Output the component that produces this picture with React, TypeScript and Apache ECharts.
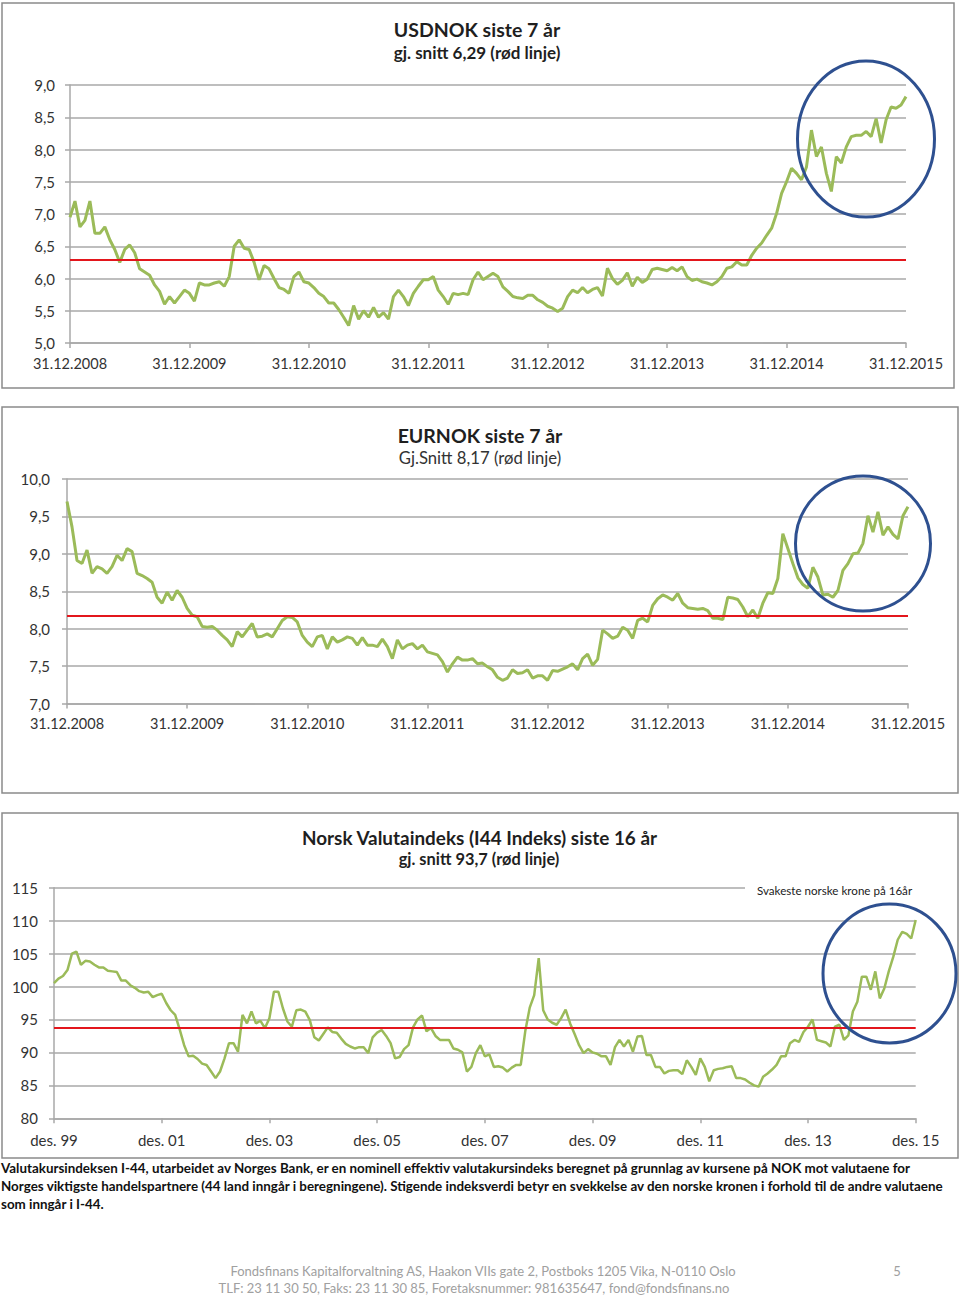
import React, { useEffect, useRef } from 'react';
import * as echarts from 'echarts';

// ---------- DATA ----------
// USDNOK, sampled every half month from 31.12.2008 to 31.12.2015
const usdValues = [
  6.95, 7.2, 6.8, 6.9, 7.2, 6.7, 6.7, 6.8, 6.6, 6.45,
  6.25, 6.45, 6.52, 6.4, 6.15, 6.1, 6.05, 5.9, 5.8, 5.6,
  5.72, 5.62, 5.72, 5.82, 5.77, 5.65, 5.93, 5.9, 5.9, 5.93,
  5.95, 5.88, 6.03, 6.5, 6.6, 6.47, 6.45, 6.25, 5.98, 6.2,
  6.15, 6.0, 5.86, 5.83, 5.77, 6.03, 6.1, 5.95, 5.93, 5.86,
  5.77, 5.72, 5.62, 5.62, 5.52, 5.4, 5.27, 5.58, 5.37, 5.5,
  5.4, 5.55, 5.4, 5.47, 5.37, 5.72, 5.82, 5.72, 5.58, 5.77,
  5.88, 5.98, 5.98, 6.03, 5.82, 5.72, 5.6, 5.77, 5.75, 5.77,
  5.75, 5.98, 6.1,
  5.98, 6.03, 6.08, 6.03, 5.87, 5.8, 5.72, 5.7, 5.69, 5.74,
  5.74, 5.67, 5.63, 5.57, 5.54, 5.49, 5.54, 5.72, 5.82, 5.78,
  5.86, 5.78, 5.83, 5.86, 5.73, 6.16, 6.0, 5.91, 5.97, 6.09,
  5.88, 6.02, 5.94, 5.99, 6.14, 6.16, 6.14, 6.12, 6.17, 6.12,
  6.18, 6.03, 5.97, 5.99, 5.95, 5.93, 5.9, 5.95, 6.03, 6.16,
  6.18, 6.26, 6.21, 6.21, 6.36, 6.47, 6.55, 6.67, 6.78, 7.01,
  7.32, 7.5, 7.71, 7.63, 7.53, 7.73, 8.3, 7.89, 8.04, 7.63,
  7.35, 7.89, 7.79, 8.04, 8.2, 8.22, 8.22, 8.28, 8.2, 8.48,
  8.1, 8.46, 8.66, 8.64, 8.69, 8.82,
];

// EURNOK, sampled every half month from 31.12.2008 to 31.12.2015
const eurValues = [
  9.7, 9.36, 8.91, 8.87, 9.05, 8.74, 8.83, 8.8, 8.74, 8.83,
  8.98, 8.91, 9.07, 9.03, 8.74, 8.71, 8.67, 8.62, 8.42, 8.34,
  8.49, 8.38, 8.51, 8.42, 8.27, 8.18, 8.16, 8.03, 8.02, 8.03,
  7.98, 7.91, 7.85, 7.76, 7.96, 7.89, 7.98, 8.07, 7.89, 7.9,
  7.93, 7.89, 8.0, 8.11, 8.16, 8.15, 8.09, 7.91, 7.82, 7.76,
  7.89, 7.91, 7.73, 7.89, 7.82, 7.85, 7.89, 7.87, 7.78, 7.88,
  7.78, 7.78, 7.76, 7.86, 7.76, 7.6, 7.85, 7.73, 7.78, 7.8,
  7.73, 7.78, 7.69, 7.67, 7.65, 7.56, 7.42, 7.53, 7.62, 7.58,
  7.58, 7.6, 7.53,
  7.54, 7.49, 7.45, 7.35, 7.31, 7.34, 7.45, 7.4, 7.41, 7.45,
  7.34, 7.37, 7.37, 7.31, 7.44, 7.43, 7.46, 7.49, 7.53, 7.45,
  7.6, 7.66, 7.51, 7.59, 7.98, 7.93, 7.87, 7.9, 8.02, 7.98,
  7.87, 8.11, 8.14, 8.09, 8.31, 8.4, 8.45, 8.42, 8.38, 8.47,
  8.34, 8.28, 8.27, 8.26, 8.27, 8.24, 8.14, 8.14, 8.12, 8.42,
  8.41, 8.39, 8.29, 8.16, 8.25, 8.14, 8.34, 8.48, 8.47, 8.67,
  9.27, 9.07, 8.87, 8.68, 8.59, 8.54, 8.82, 8.69, 8.45, 8.46,
  8.42, 8.51, 8.78, 8.87, 9.0, 9.01, 9.14, 9.51, 9.29, 9.56,
  9.25, 9.36, 9.26, 9.2, 9.51, 9.63,
];

// I-44, monthly from des. 99 to des. 15
const i44Values = [
  100.5, 101.2, 101.6, 102.5, 105.0, 105.3, 103.3, 103.9, 103.8, 103.3,
  102.9, 102.9, 102.4, 102.3, 102.2, 100.9, 100.9, 100.2, 99.8, 99.3,
  99.1, 99.2, 98.4, 98.7, 98.9, 97.5, 96.4, 95.7, 93.5, 91.1,
  89.4, 89.5, 89.0, 88.3, 88.1, 87.1, 86.1, 87.1, 89.1, 91.4,
  91.4, 90.1, 95.7, 94.4, 96.2, 94.4, 94.8, 93.7, 95.2, 99.2,
  99.2, 96.7, 94.7, 93.9, 96.4, 96.5, 96.2, 94.9, 92.3, 91.8,
  92.8, 93.8, 93.1, 93.0, 92.1, 91.3, 90.9, 90.6, 90.8, 90.8,
  89.9, 92.3, 93.0, 93.4, 92.5, 91.4, 89.1, 89.3, 90.5, 91.1,
  93.8, 95.0, 95.6, 93.2, 93.7, 92.5, 91.9, 91.9, 91.9, 90.6,
  90.4, 90.0, 87.1, 87.8, 89.9, 91.1, 89.4, 89.7, 87.8, 87.9,
  87.7, 87.1, 87.7, 88.1, 88.1, 93.2, 96.8, 98.7, 104.3, 96.4,
  95.0, 94.5, 94.2, 95.2, 96.5, 94.4, 92.8, 91.1, 89.9, 90.5,
  90.0, 89.8, 89.4, 89.4, 88.1, 90.8, 91.9, 90.9, 91.9, 90.1,
  92.4, 92.5, 89.6, 89.6, 87.8, 87.8, 86.8, 87.2, 87.3, 87.3,
  86.7, 88.8, 87.8, 86.6, 89.1, 87.8, 85.6, 87.3, 87.5, 87.6,
  87.8, 87.9, 86.1, 86.1, 85.9, 85.4, 85.0, 84.8, 86.3, 86.8,
  87.4, 88.1, 89.4, 89.4, 91.4, 91.9, 91.6, 93.1, 93.9, 95.0,
  91.9, 91.7, 91.5, 90.9, 93.9, 94.2, 91.9, 92.6, 96.2, 97.7,
  101.5, 101.5, 99.5, 102.3, 98.2, 99.7, 102.3, 104.5, 107.1, 108.3,
  108.0, 107.3, 110.1,
];

const usdAvg = 6.29;
const eurAvg = 8.17;
const i44Avg = 93.7;

const firstYear = 2009; // tick value for 31.12.2008
const lastYear = 2016; // tick value for 31.12.2015
const samplesPerYear = 24;
const monthsPerYear = 12;

const usdTitle = 'USDNOK siste 7 år';
const usdSubtitle = 'gj. snitt 6,29 (rød linje)';
const eurTitle = 'EURNOK siste 7 år';
const eurSubtitle = 'Gj.Snitt 8,17 (rød linje)';
const i44Title = 'Norsk Valutaindeks (I44 Indeks) siste 16 år';
const i44Subtitle = 'gj. snitt 93,7 (rød linje)';
const i44Note = 'Svakeste norske krone på 16år';

const bodyLines = [
  'Valutakursindeksen I-44, utarbeidet av Norges Bank, er en nominell effektiv valutakursindeks beregnet på grunnlag av kursene på NOK mot valutaene for',
  'Norges viktigste handelspartnere (44 land inngår i beregningene). Stigende indeksverdi betyr en svekkelse av den norske kronen i forhold til de andre valutaene',
  'som inngår i I-44.',
];
const footerLines = [
  'Fondsfinans Kapitalforvaltning AS, Haakon VIIs gate 2, Postboks 1205 Vika, N-0110 Oslo',
  'TLF: 23 11 30 50, Faks: 23 11 30 85, Foretaksnummer: 981635647, fond@fondsfinans.no',
];
const pageNumber = '5';

// ---------- STYLE ----------
const FONT = 'Lato, "Open Sans", "DejaVu Sans", sans-serif';
const GRID = '#A8A8A8';
const LABEL = '#333333';
const GREEN = '#9BBB59';
const RED = '#E3161C';
const BLUE = '#2E5090';

const comma = (v: number) => v.toFixed(1).replace('.', ',');

function xYears(gridIndex: number, margin: number) {
  return {
    type: 'value',
    gridIndex,
    min: firstYear,
    max: lastYear,
    interval: 1,
    axisLine: { show: true, lineStyle: { color: GRID, width: 1.5 } },
    axisTick: { show: true, length: 5, lineStyle: { color: GRID, width: 1.5 } },
    axisLabel: {
      margin,
      color: LABEL,
      fontFamily: FONT,
      fontSize: 14.5,
      formatter: (v: number) => '31.12.' + (v - 1),
    },
    splitLine: { show: false },
  };
}

function yAxisCfg(gridIndex: number, min: number, max: number, interval: number, margin: number, fmt: (v: number) => string) {
  return {
    type: 'value',
    gridIndex,
    min,
    max,
    interval,
    axisLine: { show: true, lineStyle: { color: GRID, width: 1.5 } },
    axisTick: { show: true, length: 5, lineStyle: { color: GRID, width: 1.5 } },
    axisLabel: { margin, color: LABEL, fontFamily: FONT, fontSize: 15, formatter: fmt },
    splitLine: { show: true, lineStyle: { color: GRID, width: 1.5 } },
  };
}

function lineSeries(idx: number, data: number[][], avg: number, width: number) {
  return {
    type: 'line',
    xAxisIndex: idx,
    yAxisIndex: idx,
    data,
    showSymbol: false,
    symbol: 'none',
    lineStyle: { color: GREEN, width },
    itemStyle: { color: GREEN },
    z: 3,
    markLine: {
      silent: true,
      symbol: 'none',
      label: { show: false },
      lineStyle: { color: RED, width: 2, type: 'solid' },
      data: [{ yAxis: avg }],
    },
  };
}

function txt(x: number, y: number, text: string, size: number, weight: string, color: string, align = 'center', z = 10) {
  return {
    type: 'text',
    x,
    y,
    z,
    style: {
      text,
      fontSize: size,
      fontWeight: weight,
      fontFamily: FONT,
      fill: color,
      align,
      verticalAlign: 'middle',
    },
  };
}

export default function App() {
  const ref = useRef<HTMLDivElement>(null);

  useEffect(() => {
    if (!ref.current) return;
    const chart = echarts.init(ref.current, undefined, { renderer: 'svg' });

    const usdData = usdValues.map((v, i) => [firstYear + i / samplesPerYear, v]);
    const eurData = eurValues.map((v, i) => [firstYear + i / samplesPerYear, v]);
    const i44Data = i44Values.map((v, i) => [i, v]);

    const option = {
      animation: false,
      backgroundColor: '#ffffff',
      grid: [
        { left: 70, top: 85, width: 836, height: 258 },
        { left: 67, top: 479, width: 841, height: 224.5 },
        { left: 54, top: 887.7, width: 861.7, height: 230.6 },
      ],
      xAxis: [
        xYears(0, 13),
        xYears(1, 12),
        {
          type: 'value',
          gridIndex: 2,
          min: 0,
          max: 16 * monthsPerYear,
          interval: 2 * monthsPerYear,
          axisLine: { show: true, lineStyle: { color: GRID, width: 1.5 } },
          axisTick: { show: true, length: 5, lineStyle: { color: GRID, width: 1.5 } },
          axisLabel: {
            margin: 14,
            color: LABEL,
            fontFamily: FONT,
            fontSize: 15,
            formatter: (v: number) => {
              const yy = (99 + v / monthsPerYear) % 100;
              return 'des. ' + String(yy).padStart(2, '0');
            },
          },
          splitLine: { show: false },
        },
      ],
      yAxis: [
        yAxisCfg(0, 5, 9, 0.5, 15, comma),
        yAxisCfg(1, 7, 10, 0.5, 17, comma),
        yAxisCfg(2, 80, 115, 5, 16, (v: number) => String(v)),
      ],
      series: [
        lineSeries(0, usdData, usdAvg, 3),
        lineSeries(1, eurData, eurAvg, 3),
        lineSeries(2, i44Data, i44Avg, 2.5),
      ],
      graphic: [
        // panel frames
        { type: 'rect', z: 1, shape: { x: 2, y: 3, width: 952, height: 385 }, style: { fill: 'none', stroke: '#8A8A8A', lineWidth: 1.5 } },
        { type: 'rect', z: 1, shape: { x: 2, y: 407, width: 956, height: 386 }, style: { fill: 'none', stroke: '#8A8A8A', lineWidth: 1.5 } },
        { type: 'rect', z: 1, shape: { x: 2, y: 813, width: 956, height: 345 }, style: { fill: 'none', stroke: '#8A8A8A', lineWidth: 1.5 } },
        // titles
        txt(477, 29, usdTitle, 19.5, 'bold', '#1F1F1F'),
        txt(477, 52, usdSubtitle, 17, 'bold', '#1F1F1F'),
        txt(480, 435, eurTitle, 19.5, 'bold', '#1F1F1F'),
        txt(480, 458, eurSubtitle, 16.7, 'normal', '#333333'),
        txt(479.5, 837, i44Title, 18.9, 'bold', '#1F1F1F'),
        txt(479, 858, i44Subtitle, 16.4, 'bold', '#1F1F1F'),
        // note box over top gridline
        { type: 'rect', z: 50, shape: { x: 745, y: 881, width: 174, height: 16 }, style: { fill: '#ffffff' } },
        txt(757, 890, i44Note, 11.6, 'normal', '#222222', 'left', 51),
        // circles
        { type: 'ellipse', z: 60, shape: { cx: 866, cy: 139, rx: 68.5, ry: 78 }, style: { fill: 'none', stroke: BLUE, lineWidth: 3 } },
        { type: 'ellipse', z: 60, shape: { cx: 863, cy: 543.5, rx: 67.5, ry: 67.5 }, style: { fill: 'none', stroke: BLUE, lineWidth: 3 } },
        { type: 'ellipse', z: 60, shape: { cx: 889.5, cy: 973.5, rx: 66.5, ry: 69.5 }, style: { fill: 'none', stroke: BLUE, lineWidth: 3 } },
        // body text
        ...bodyLines.map((line, i) => txt(1, 1168 + i * 18, line, 13.4, 'bold', '#111111', 'left')),
        // footer
        txt(483, 1271, footerLines[0], 13, 'normal', '#A0A0A0'),
        txt(474, 1288, footerLines[1], 13, 'normal', '#A0A0A0'),
        txt(897, 1271, pageNumber, 13, 'normal', '#A0A0A0'),
      ],
    };

    chart.setOption(option as any);
    return () => chart.dispose();
  }, []);

  return (
    <div
      ref={ref}
      style={{ position: 'absolute', left: 0, top: 0, width: 960, height: 1298, background: '#ffffff' }}
    />
  );
}
